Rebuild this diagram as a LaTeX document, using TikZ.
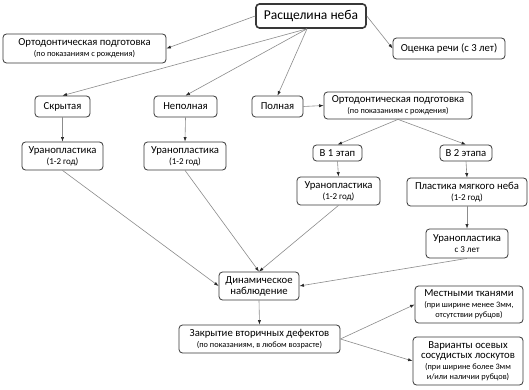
\documentclass[tikz,border=0pt]{standalone}
\usepackage{fontspec}
\setmainfont{Carlito}
\usetikzlibrary{arrows.meta}
\newcommand\smtxt[1]{{\fontsize{8.3}{9}\selectfont #1}}
\newcommand\midtxt[1]{{\fontsize{9}{10}\selectfont #1}}
\begin{document}
\begin{tikzpicture}[x=1pt,y=-1pt,
  box/.style={draw=black!78,line width=0.8pt,rounded corners=3.5pt,align=center,
    inner sep=0pt,font=\fontsize{10.7}{12}\selectfont,text=black},
  rootbox/.style={box,line width=1.6pt,font=\fontsize{13.5}{15}\selectfont},
  conn/.style={draw=black!45,line width=0.6pt,-{Latex[length=4.5pt,width=3.2pt,color=black!85]}}]
\useasboundingbox (0,0) rectangle (529,390);
\fill[white] (0,0) rectangle (529,390);

\node[rootbox,minimum width=110pt,minimum height=24pt] (root) at (311,16) {Расщелина неба};
\node[box,minimum width=163pt,minimum height=29pt] (o1) at (84.5,48.5) {Ортодонтическая подготовка\\[-1pt]\smtxt{(по показаниям с рождения)}};
\node[box,minimum width=112pt,minimum height=21pt] (speech) at (449,48.5) {Оценка речи (с 3 лет)};
\node[box,minimum width=55pt,minimum height=21pt] (hid) at (62.5,106.5) {Скрытая};
\node[box,minimum width=63pt,minimum height=21pt] (inc) at (185.5,106.5) {Неполная};
\node[box,minimum width=51pt,minimum height=21pt] (cmp) at (277.5,106.5) {Полная};
\node[box,minimum width=148pt,minimum height=27pt] (o2) at (398,105.5) {Ортодонтическая подготовка\\[-1pt]\smtxt{(по показаниям с рождения)}};
\node[box,minimum width=49pt,minimum height=16pt] (st1) at (337.5,153) {В 1 этап};
\node[box,minimum width=52pt,minimum height=16pt] (st2) at (466,153) {В 2 этапа};
\node[box,minimum width=81pt,minimum height=28pt] (u1) at (62.5,156) {Уранопластика\\[-1pt]\midtxt{(1-2 год)}};
\node[box,minimum width=82pt,minimum height=28pt] (u2) at (185,156) {Уранопластика\\[-1pt]\midtxt{(1-2 год)}};
\node[box,minimum width=83pt,minimum height=28pt] (u3) at (338.5,191) {Уранопластика\\[-1pt]\midtxt{(1-2 год)}};
\node[box,minimum width=120pt,minimum height=28pt] (soft) at (467,192) {Пластика мягкого неба\\[-1pt]\midtxt{(1-2 год)}};
\node[box,minimum width=82pt,minimum height=29pt] (u4) at (467,243.5) {Уранопластика\\[-1pt]\midtxt{с 3 лет}};
\node[box,minimum width=80pt,minimum height=28pt] (dyn) at (259,286) {Динамическое\\[-1pt]наблюдение};
\node[box,minimum width=161pt,minimum height=28pt] (cls) at (259.5,339) {Закрытие вторичных дефектов\\[-1pt]\smtxt{(по показаниям, в любом возрасте)}};
\node[box,minimum width=108pt,minimum height=37pt] (loc) at (469,304.5) {Местными тканями\\[-1pt]\smtxt{(при ширине менее 3мм,}\\[-2pt]\smtxt{отсутствии рубцов)}};
\node[box,minimum width=110pt,minimum height=48pt] (axi) at (468,361) {Варианты осевых\\[-2pt]сосудистых лоскутов\\[-1pt]\smtxt{(при ширине более 3мм}\\[-2pt]\smtxt{и/или наличии рубцов)}};

\draw[conn] (root.west) -- (o1.east);
\draw[conn] (root.east) -- (speech.west);
\draw[conn] ([xshift=-4pt]root.south) -- (hid.north);
\draw[conn] ([xshift=-4pt]root.south) -- (inc.north);
\draw[conn] ([xshift=-4pt]root.south) -- (cmp.north);
\draw[conn] (cmp.east) -- (o2.west);
\draw[conn] (o2.south) -- (st1.north);
\draw[conn] (o2.south) -- (st2.north);
\draw[conn] (hid.south) -- (u1.north);
\draw[conn] (inc.south) -- (u2.north);
\draw[conn] (st1.south) -- (u3.north);
\draw[conn] (st2.south) -- (soft.north);
\draw[conn] (soft.south) -- (u4.north);
\draw[conn] (u1.south) -- (dyn.west);
\draw[conn] (u2.south) -- (dyn.north);
\draw[conn] (u3.south) -- (dyn.north);
\draw[conn] (u4.south) -- (dyn.east);
\draw[conn] (dyn.south) -- (cls.north);
\draw[conn] (cls.east) -- (loc.west);
\draw[conn] (cls.east) -- (axi.west);
\end{tikzpicture}
\end{document}
